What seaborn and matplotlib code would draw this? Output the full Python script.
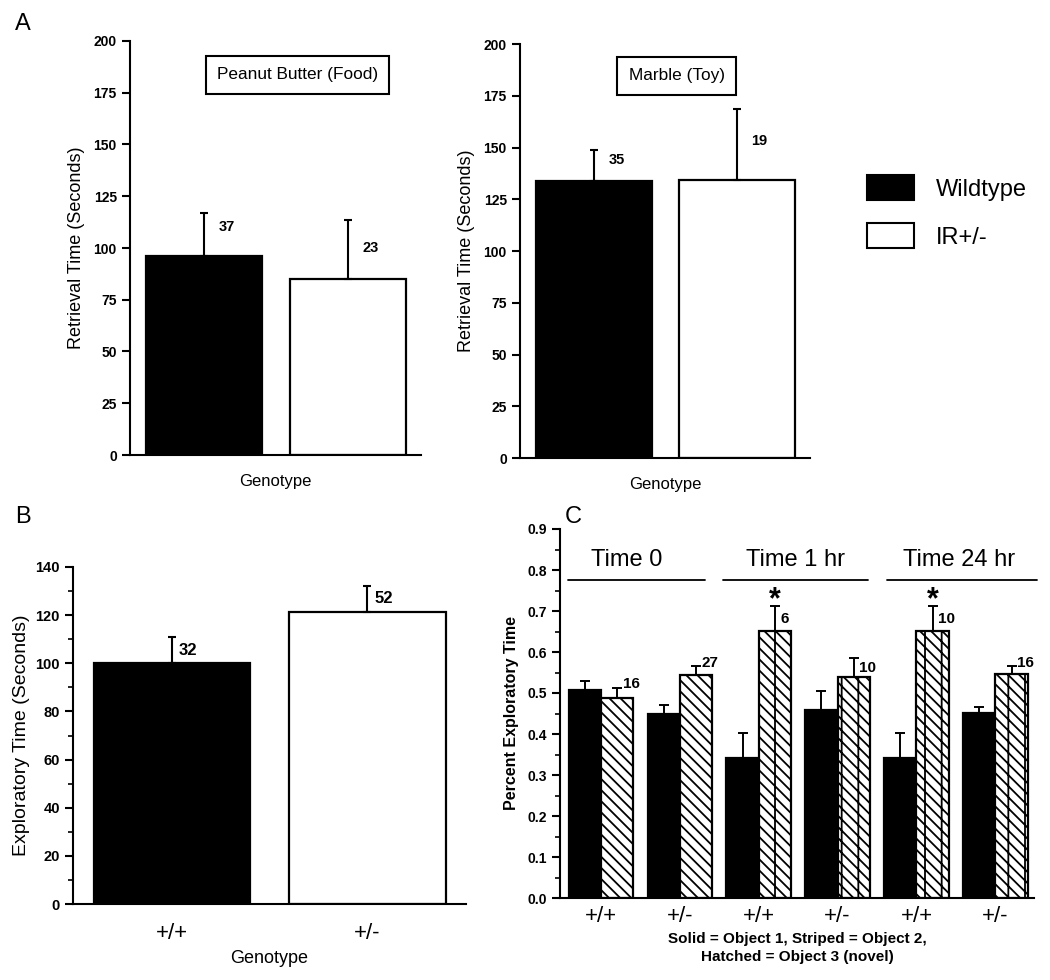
import matplotlib
matplotlib.use("Agg")
import matplotlib.pyplot as plt
import seaborn as sns
import pandas as pd
import numpy as np
from matplotlib.patches import Patch
from matplotlib.ticker import MultipleLocator

sns.set_style("ticks")
plt.rcParams['font.family'] = ['Liberation Sans', 'DejaVu Sans']
plt.rcParams['hatch.linewidth'] = 1.3
plt.rcParams['axes.linewidth'] = 1.5
for k in ['text.color', 'axes.labelcolor', 'xtick.color', 'ytick.color', 'axes.edgecolor']:
    plt.rcParams[k] = 'black'

# ---------------- data ----------------
# Panel A
a_genotypes = ["Wildtype", "IR+/-"]
a_food_mean = [96.0, 85.0]
a_food_err = [21.0, 28.5]
a_food_n = ["37", "23"]
a_food_n_y = [110.0, 100.0]
a_toy_mean = [134.0, 134.3]
a_toy_err = [15.0, 34.5]
a_toy_n = ["35", "19"]
a_toy_n_y = [144.0, 153.0]
a_yticks = [0, 25, 50, 75, 100, 125, 150, 175, 200]

# Panel B
b_genotypes = ["+/+", "+/-"]
b_mean = [100.0, 121.4]
b_err = [10.9, 10.9]
b_n = ["32", "52"]
b_yticks = [0, 20, 40, 60, 80, 100, 120, 140]

# Panel C
c_groups = ["Time 0", "Time 1 hr", "Time 24 hr"]
c_genotypes = ["+/+", "+/-", "+/+", "+/-", "+/+", "+/-"]
c_obj1_mean = [0.507, 0.449, 0.342, 0.458, 0.342, 0.451]
c_obj1_err = [0.023, 0.021, 0.061, 0.046, 0.061, 0.016]
c_obj2_mean = [0.487, 0.545, 0.652, 0.538, 0.652, 0.547]
c_obj2_err = [0.025, 0.022, 0.060, 0.048, 0.060, 0.020]
c_obj2_kind = ["Striped", "Striped", "Hatched", "Hatched", "Hatched", "Hatched"]
c_n = ["16", "27", "6", "10", "10", "16"]
c_n_y = [0.522, 0.574, 0.680, 0.560, 0.680, 0.574]
c_sig = ["", "", "*", "", "*", ""]
c_yticks = [0.0, 0.1, 0.2, 0.3, 0.4, 0.5, 0.6, 0.7, 0.8, 0.9]

W, H = 1050, 980
fig = plt.figure(figsize=(10.5, 9.8), dpi=100)


def fr(x0, x1, ytop, ybot):
    return [x0 / W, 1 - ybot / H, (x1 - x0) / W, (ybot - ytop) / H]


def style_axis(ax, tick_fs, minor=None):
    sns.despine(ax=ax)
    ax.tick_params(axis='y', which='major', length=6, width=1.5, labelsize=tick_fs, direction='out')
    ax.tick_params(axis='x', length=0)
    for lab in ax.get_yticklabels():
        lab.set_fontweight('bold')
    if minor is not None:
        ax.yaxis.set_minor_locator(MultipleLocator(minor))
        ax.tick_params(axis='y', which='minor', length=3.5, width=1.2, direction='out')


def two_bars(ax, cats, means, errs, width):
    df = pd.DataFrame({"cat": cats, "val": means})
    sns.barplot(data=df, x="cat", y="val", hue="cat", palette=["black", "white"],
                saturation=1, edgecolor="black", linewidth=1.6, width=width,
                errorbar=None, legend=False, ax=ax)
    x = np.arange(len(cats))
    ax.errorbar(x, means, yerr=[np.zeros(len(cats)), errs], fmt='none',
                ecolor='black', elinewidth=1.5, capsize=3, capthick=1.5, zorder=3)


# ---------------- Panel A ----------------
for (x0, x1, yt, yb, means, errs, ns, nys, title, tx, ty, lim) in [
    (130, 421, 41, 455, a_food_mean, a_food_err, a_food_n, a_food_n_y,
     "Peanut Butter (Food)", 0.576, 0.918, (-0.514, 1.507)),
    (520, 810, 44, 458, a_toy_mean, a_toy_err, a_toy_n, a_toy_n_y,
     "Marble (Toy)", 0.54, 0.923, (-0.517, 1.51)),
]:
    ax = fig.add_axes(fr(x0, x1, yt, yb))
    two_bars(ax, a_genotypes, means, errs, 0.81)
    ax.set_ylim(0, 200)
    ax.set_yticks(a_yticks)
    ax.set_xlim(*lim)
    ax.set_xticks([])
    style_axis(ax, 10)
    ax.set_ylabel("Retrieval Time (Seconds)", fontsize=13, labelpad=6)
    ax.set_xlabel("Genotype", fontsize=12, labelpad=14)
    for i, (n, ny) in enumerate(zip(ns, nys)):
        ax.text(i + 0.1, ny, n, fontsize=10.5, fontweight='bold', va='center', ha='left')
    ax.text(tx, ty, title, transform=ax.transAxes, fontsize=12.4, ha='center', va='center',
            bbox=dict(boxstyle='square,pad=0.65', fc='white', ec='black', lw=1.5))

fig.text(15 / W, 1 - 24 / H, "A", fontsize=17, va='center', ha='left')

# legend
handles = [Patch(facecolor='black', edgecolor='black', lw=1.5),
           Patch(facecolor='white', edgecolor='black', lw=1.5)]
fig.legend(handles, a_genotypes, loc='upper left', bbox_to_anchor=(846 / W, 1 - 154 / H),
           frameon=False, fontsize=17, handlelength=2.0, handleheight=1.25,
           handletextpad=0.9, labelspacing=0.95)

# ---------------- Panel B ----------------
axb = fig.add_axes(fr(73, 466, 567, 904))
two_bars(axb, b_genotypes, b_mean, b_err, 0.80)
axb.set_ylim(0, 140)
axb.set_yticks(b_yticks)
axb.set_xlim(-0.506, 1.504)
style_axis(axb, 10.5, minor=10)
axb.set_xticks([0, 1])
axb.set_xticklabels(b_genotypes, fontsize=16)
axb.tick_params(axis='x', pad=14)
axb.set_ylabel("Exploratory Time (Seconds)", fontsize=14, labelpad=4)
axb.set_xlabel("Genotype", fontsize=13, labelpad=4)
for i, n in enumerate(b_n):
    axb.annotate(n, (i, b_mean[i] + b_err[i]), xytext=(5, -4), textcoords='offset points',
                 fontsize=12, fontweight='bold', ha='left', va='top')
fig.text(15 / W, 1 - 517 / H, "B", fontsize=17, va='center', ha='left')

# ---------------- Panel C ----------------
axc = fig.add_axes(fr(560, 1034, 529, 898))
keys = [f"{g}{i}" for i, g in enumerate(c_genotypes)]
dfc = pd.DataFrame({
    "pair": keys * 2,
    "obj": ["Solid"] * 6 + ["Second"] * 6,
    "val": c_obj1_mean + c_obj2_mean,
})
sns.barplot(data=dfc, x="pair", y="val", hue="obj", hue_order=["Solid", "Second"],
            order=keys, palette=["black", "white"], saturation=1, edgecolor="black",
            linewidth=1.6, width=0.82, errorbar=None, legend=False, ax=axc)
bars = [p for p in axc.patches]
for p, kind in zip(bars[6:12], c_obj2_kind):
    p.set_hatch('\\\\\\' if kind == "Striped" else '\\\\\\|')
w = 0.82 / 2
x = np.arange(6)
axc.errorbar(x - w / 2, c_obj1_mean, yerr=[np.zeros(6), c_obj1_err], fmt='none',
             ecolor='black', elinewidth=1.4, capsize=3.5, capthick=1.4, zorder=3)
axc.errorbar(x + w / 2, c_obj2_mean, yerr=[np.zeros(6), c_obj2_err], fmt='none',
             ecolor='black', elinewidth=1.4, capsize=3.5, capthick=1.4, zorder=3)
for i in range(6):
    axc.text(x[i] + w / 2 + 0.07, c_n_y[i], c_n[i], fontsize=11, fontweight='bold',
             ha='left', va='center')
    if c_sig[i]:
        axc.text(x[i] + w / 2, 0.725, c_sig[i], fontsize=22, fontweight='bold',
                 ha='center', va='center')
axc.set_ylim(0, 0.9)
axc.set_yticks(c_yticks)
axc.set_yticklabels([f"{v:.1f}" for v in c_yticks])
axc.set_xlim(-0.52, 5.49)
style_axis(axc, 10, minor=0.05)
axc.set_xticks(x)
axc.set_xticklabels(c_genotypes, fontsize=16)
axc.tick_params(axis='x', pad=6)
axc.set_ylabel("Percent Exploratory Time", fontsize=11.5, fontweight='bold', labelpad=6)
axc.set_xlabel("Solid = Object 1, Striped = Object 2,\nHatched = Object 3 (novel)",
               fontsize=11, fontweight='bold', labelpad=3, linespacing=1.45)
# group headers
hdr_spans = [(-0.42, 1.32), (1.55, 3.39), (3.63, 5.53)]
hdr_text_x = [0.33, 2.47, 4.54]
for name, (s0, s1), tx in zip(c_groups, hdr_spans, hdr_text_x):
    axc.plot([s0, s1], [0.776, 0.776], color='black', lw=1.3, clip_on=False)
    axc.text(tx, 0.825, name, fontsize=17, ha='center', va='center')
fig.text(565 / W, 1 - 517 / H, "C", fontsize=17, va='center', ha='left')

fig.savefig("out.png", dpi=100, facecolor='white')
